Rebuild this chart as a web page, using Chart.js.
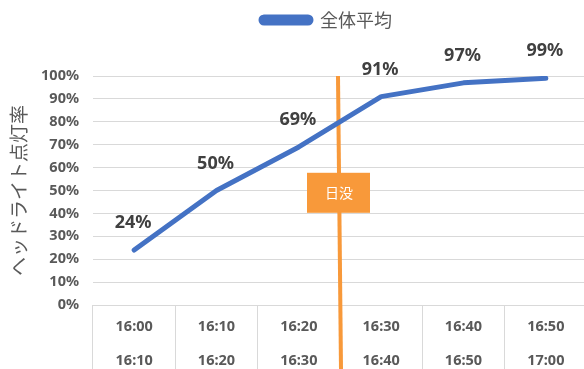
<!DOCTYPE html>
<html lang="ja">
<head>
<meta charset="UTF-8">
<title>ヘッドライト点灯率</title>
<script src="https://cdn.jsdelivr.net/npm/chart.js"></script>
<style>
  html, body { margin: 0; padding: 0; background: #fff; overflow: hidden; }
  canvas { display: block; }
</style>
</head>
<body>
<canvas id="chart" width="590" height="369"></canvas>
<script>
// 10分刻みの時間帯（開始・終了）
const slotStart = ['16:00', '16:10', '16:20', '16:30', '16:40', '16:50'];
const slotEnd = ['16:10', '16:20', '16:30', '16:40', '16:50', '17:00'];
// 全体平均の点灯率 (%)
const average = [24, 50, 69, 91, 97, 99];
// 日没時刻と目盛り
const sunset = '16:30';
const sunsetLabel = '日没';
const sunsetLabelValue = 49;
const yTicks = [0, 10, 20, 30, 40, 50, 60, 70, 80, 90, 100];

const FONT = "'Noto Sans', 'Noto Sans CJK JP', sans-serif";
const JP_FONT = "'Noto Sans CJK JP', sans-serif";
const GRAY = '#595959';
const ORANGE = '#F8993A';

function minutes(t) {
  const [h, m] = t.split(':').map(Number);
  return h * 60 + m;
}

// 凡例の下に余白を足してグラフ領域を下げ、凡例を少し右へ寄せる
const legendGap = {
  id: 'legendGap',
  afterInit(chart) {
    const fit = chart.legend.fit;
    chart.legend.fit = function () {
      fit.call(this);
      this.height += 37;
    };
  },
  afterLayout(chart) {
    chart.legend.left += 33;
    chart.legend.right += 33;
  }
};

// 日没の縦線とラベル
const sunsetPlugin = {
  id: 'sunset',
  beforeDatasetsDraw(chart) {
    const {ctx, chartArea, scales} = chart;
    const slot = (minutes(sunset) - minutes(slotStart[0])) / 10 - 0.5;
    const x = scales.x.getPixelForValue(slot);
    ctx.save();
    ctx.strokeStyle = ORANGE;
    ctx.lineWidth = 4;
    ctx.beginPath();
    ctx.moveTo(x - 2, chartArea.top);
    ctx.lineTo(x + 1, chart.height);
    ctx.stroke();

    const y = scales.y.getPixelForValue(sunsetLabelValue);
    ctx.fillStyle = ORANGE;
    ctx.fillRect(x - 33, y - 20, 63, 40);
    ctx.fillStyle = '#fff';
    ctx.font = '14px ' + JP_FONT;
    ctx.textAlign = 'center';
    ctx.textBaseline = 'middle';
    ctx.fillText(sunsetLabel, x - 1, y);
    ctx.restore();
  }
};

// 各点の上に値を表示
const valueLabels = {
  id: 'valueLabels',
  afterDatasetsDraw(chart) {
    const {ctx} = chart;
    const meta = chart.getDatasetMeta(0);
    ctx.save();
    ctx.fillStyle = '#404040';
    ctx.font = 'bold 18px ' + FONT;
    ctx.textAlign = 'center';
    ctx.textBaseline = 'middle';
    meta.data.forEach((pt, i) => {
      ctx.fillText(average[i] + '%', pt.x - 1, pt.y - 27);
    });
    ctx.restore();
  }
};

new Chart(document.getElementById('chart'), {
  type: 'line',
  data: {
    labels: slotStart.map((s, i) => [s, slotEnd[i]]),
    datasets: [{
      label: '全体平均',
      data: average,
      borderColor: '#4472C4',
      backgroundColor: '#4472C4',
      borderWidth: 5,
      borderCapStyle: 'round',
      borderJoinStyle: 'round',
      pointRadius: 0,
      tension: 0
    }]
  },
  options: {
    responsive: false,
    animation: false,
    layout: { padding: { top: 5, right: 3, bottom: 0, left: 0 } },
    plugins: {
      tooltip: { enabled: false },
      legend: {
        position: 'top',
        labels: {
          color: GRAY,
          font: { family: JP_FONT, size: 18 },
          boxWidth: 50,
          boxHeight: 6,
          useBorderRadius: true,
          borderRadius: 3,
          padding: 6
        }
      }
    },
    scales: {
      x: {
        offset: true,
        afterFit(scale) { scale.height = 64; },
        grid: {
          offset: true,
          drawOnChartArea: false,
          tickLength: 64,
          color: '#D9D9D9'
        },
        border: { display: false },
        ticks: {
          color: GRAY,
          padding: -59,
          font: { family: FONT, size: 14.5, weight: 'bold', lineHeight: 2.34 }
        }
      },
      y: {
        min: 0,
        max: 100,
        afterFit(scale) { scale.width = 93; },
        afterBuildTicks(scale) { scale.ticks = yTicks.map(v => ({ value: v })); },
        grid: { color: '#D9D9D9', drawTicks: false },
        border: { display: false },
        ticks: {
          color: GRAY,
          padding: 14,
          font: { family: FONT, size: 14.5, weight: 'bold' },
          callback: v => v + '%'
        },
        title: {
          display: true,
          text: 'ヘッドライト点灯率',
          color: GRAY,
          padding: { top: 7, bottom: 0 },
          font: { family: JP_FONT, size: 19 }
        }
      }
    }
  },
  plugins: [legendGap, sunsetPlugin, valueLabels]
});
</script>
</body>
</html>
